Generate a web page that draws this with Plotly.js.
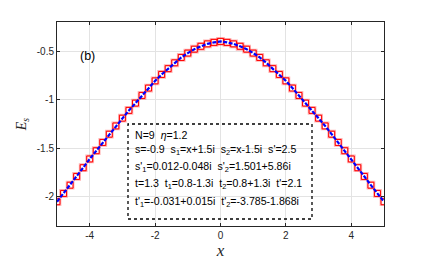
<!DOCTYPE html>
<html>
<head>
<meta charset="utf-8">
<script src="https://cdn.plot.ly/plotly-3.0.1.min.js"></script>
<style>
html,body{margin:0;padding:0;background:#fff;}
#chart{width:436px;height:273px;}
</style>
</head>
<body>
<div id="chart"></div>
<script>
// Data (x from -5 to 5, step 0.2)
var xValues = [-5.0,-4.8,-4.6,-4.4,-4.2,-4.0,-3.8,-3.6,-3.4,-3.2,-3.0,-2.8,-2.6,-2.4,-2.2,-2.0,-1.8,-1.6,-1.4,-1.2,-1.0,-0.8,-0.6,-0.4,-0.2,
  0.0,0.2,0.4,0.6,0.8,1.0,1.2,1.4,1.6,1.8,2.0,2.2,2.4,2.6,2.8,3.0,3.2,3.4,3.6,3.8,4.0,4.2,4.4,4.6,4.8,5.0];
var esValues = [-2.05,-1.965,-1.88,-1.79,-1.70,-1.61,-1.525,-1.44,-1.355,-1.27,-1.19,-1.11,-1.035,-0.956,-0.88,-0.806,-0.74,-0.68,-0.62,-0.565,-0.52,-0.48,-0.45,-0.425,-0.41,
  -0.40,-0.41,-0.425,-0.45,-0.48,-0.52,-0.565,-0.62,-0.68,-0.74,-0.806,-0.88,-0.956,-1.035,-1.11,-1.19,-1.27,-1.355,-1.44,-1.525,-1.61,-1.70,-1.79,-1.88,-1.965,-2.05];
var xTickVals = [-4,-2,0,2,4];
var xTickText = ['-4','-2','0','2','4'];
var yTickVals = [-2,-1.5,-1,-0.5];
var yTickText = ['-2','-1.5','-1','-0.5'];
var boxLines = [
  'N=9  <i>η</i>=1.2',
  's=-0.9  s<sub>1</sub>=x+1.5i  s<sub>2</sub>=x-1.5i  s\'=2.5',
  's\'<sub>1</sub>=0.012-0.048i  s\'<sub>2</sub>=1.501+5.86i',
  't=1.3  t<sub>1</sub>=0.8-1.3i  t<sub>2</sub>=0.8+1.3i  t\'=2.1',
  't\'<sub>1</sub>=-0.031+0.015i  t\'<sub>2</sub>=-3.785-1.868i'
];

var traces = [
  {x:xValues, y:esValues, mode:'markers', type:'scatter',
   marker:{symbol:'square-open', size:6.5, color:'rgba(255,0,0,0.3)', line:{width:2.2, color:'rgba(255,0,0,0.3)'}},
   hoverinfo:'skip', showlegend:false},
  {x:xValues, y:esValues, mode:'markers', type:'scatter',
   marker:{symbol:'square-open', size:6, color:'#ff0000', line:{width:1, color:'#ff0000'}},
   showlegend:false},
  {x:xValues, y:esValues, mode:'lines', type:'scatter',
   line:{color:'#0000ff', width:2.2, dash:'4px,1.5px'}, showlegend:false}
];

var lineY = [135, 150, 167, 184, 202];
var annotations = boxLines.map(function(t,i){
  return {text:t, xref:'paper', yref:'paper', x:(133-57)/327, y:1-(lineY[i]-22)/204,
    xanchor:'left', yanchor:'middle', showarrow:false,
    font:{family:'Liberation Sans, Arial, sans-serif', size:10.6, color:'#000'}};
});
annotations.push({text:'(b)', xref:'paper', yref:'paper', x:(87-57)/327, y:1-(56-22)/204,
  xanchor:'center', yanchor:'middle', showarrow:false,
  font:{family:'Liberation Sans, Arial, sans-serif', size:12.5, color:'#000'}});

var layout = {
  width:436, height:273,
  margin:{l:57, r:52, t:22, b:47},
  paper_bgcolor:'#fff', plot_bgcolor:'#fff',
  xaxis:{range:[-5,5], tickvals:xTickVals, ticktext:xTickText, ticks:'inside', ticklen:3,
    tickcolor:'#262626', showline:true, linecolor:'#262626', linewidth:1, mirror:'ticks',
    showgrid:true, gridcolor:'#e3e3e3', gridwidth:1, zeroline:false,
    tickfont:{family:'Liberation Sans, Arial, sans-serif', size:10, color:'#262626'},
    title:{text:'<i>x</i>', font:{family:'Liberation Serif, DejaVu Serif, serif', size:17, color:'#262626'}, standoff:4}},
  yaxis:{range:[-2.3,-0.2], tickvals:yTickVals, ticktext:yTickText, ticks:'inside', ticklen:3,
    tickcolor:'#262626', showline:true, linecolor:'#262626', linewidth:1, mirror:'ticks',
    showgrid:true, gridcolor:'#e3e3e3', gridwidth:1, zeroline:false,
    tickfont:{family:'Liberation Sans, Arial, sans-serif', size:10, color:'#262626'},
    title:{text:'<i>E<sub>s</sub></i>', font:{family:'Liberation Serif, DejaVu Serif, serif', size:14, color:'#262626'}, standoff:6}},
  shapes:[{type:'rect', xref:'paper', yref:'paper',
    x0:(128-57)/327, x1:(312-57)/327, y0:1-(219-22)/204, y1:1-(124-22)/204,
    line:{color:'#000', width:1.3, dash:'dot'}, fillcolor:'rgba(0,0,0,0)', layer:'above'}],
  annotations:annotations,
  showlegend:false
};
Plotly.newPlot('chart', traces, layout, {displayModeBar:false, staticPlot:true});
</script>
</body>
</html>
